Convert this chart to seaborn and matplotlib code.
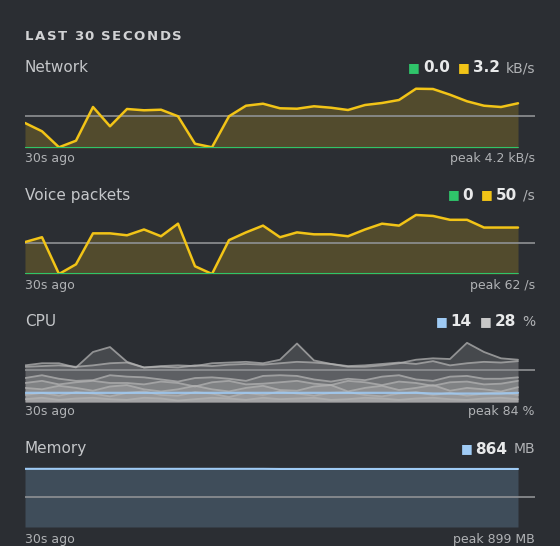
import numpy as np
import pandas as pd
import matplotlib
matplotlib.use("Agg")
import matplotlib.pyplot as plt
import seaborn as sns

# --- data (last 30 samples) ---
net_out = [1.75, 1.17, 0.05, 0.51, 2.87, 1.52, 2.73, 2.64, 2.68, 2.22, 0.30, 0.05, 2.22, 2.96, 3.10,
           2.78, 2.75, 2.92, 2.82, 2.66, 3.01, 3.15, 3.36, 4.15, 4.13, 3.73, 3.27, 2.96, 2.87, 3.13]
net_in = [0.02] * 30
net_ref = 2.22

voice_out = [33, 38, 0, 10, 42, 42, 40, 46, 39, 52, 8, 0, 35, 43, 50,
             38, 43, 41, 41, 39, 46, 52, 50, 61, 60, 56, 56, 48, 48, 48]
voice_in = [0] * 30
voice_ref = 32

cpu_cores = [
    [52, 55, 55, 49, 71, 78, 57, 49, 51, 52, 51, 55, 56, 57, 55, 60, 83, 59, 54, 50, 50, 52, 55, 60, 62, 61, 84, 71, 62, 60],
    [50, 51, 52, 50, 52, 55, 56, 49, 50, 49, 52, 51, 53, 54, 53, 55, 57, 56, 54, 51, 52, 54, 56, 54, 58, 52, 55, 57, 56, 58],
    [34, 38, 33, 30, 31, 38, 36, 35, 32, 29, 34, 35, 33, 30, 37, 38, 37, 32, 29, 33, 31, 36, 38, 32, 30, 36, 37, 33, 33, 35],
    [27, 30, 25, 28, 30, 27, 27, 25, 29, 27, 22, 28, 30, 25, 26, 28, 30, 26, 24, 30, 28, 24, 29, 27, 23, 28, 29, 25, 26, 30],
    [20, 18, 23, 20, 16, 22, 24, 18, 15, 18, 23, 18, 15, 20, 23, 17, 16, 22, 24, 15, 20, 23, 17, 20, 24, 16, 20, 18, 15, 21],
    [10, 13, 9, 14, 12, 8, 13, 15, 10, 9, 14, 12, 7, 13, 10, 15, 12, 9, 13, 14, 10, 8, 12, 14, 10, 13, 9, 12, 14, 10],
    [4, 6, 3, 5, 6, 4, 3, 6, 5, 2, 4, 6, 5, 3, 6, 4, 5, 6, 3, 4, 6, 5, 3, 5, 6, 4, 3, 5, 6, 4],
]
cpu_user = [13, 13, 13, 13, 13, 13, 13, 13, 13, 13, 13, 13, 13, 13, 13,
            13, 13, 13, 13, 13, 13, 13, 13, 13, 12, 12, 12, 12, 12, 13]
cpu_ref = 45

mem = [866, 866, 866, 866, 866, 866, 866, 866, 866, 866, 866, 866, 866, 866, 866,
       864, 864, 864, 864, 864, 864, 864, 864, 864, 864, 864, 864, 864, 864, 864]
mem_ref = 445

t = np.arange(30)

BG = "#2b2e33"
TXT = "#c4c6c9"
DIM = "#b0b2b5"
YEL = "#f2c417"
GRN = "#2fc46a"
BLUE = "#9fcbf5"
REF = "#8f9194"

sns.set_theme(style="dark")
plt.rcParams['font.family'] = ['DejaVu Sans']

W, H = 560, 546
fig = plt.figure(figsize=(W / 100, H / 100), dpi=100, facecolor=BG)
renderer = fig.canvas.get_renderer()


def fx(px):
    return px / W


def fy(py):
    return 1 - py / H


def width_px(txt):
    return txt.get_window_extent(renderer=renderer).width


def make_ax(top, bottom, ymax):
    ax = fig.add_axes([fx(25), fy(bottom), fx(535 - 25), (bottom - top) / H])
    ax.set_facecolor(BG)
    ax.set_xlim(0, 30)
    ax.set_ylim(0, ymax)
    ax.set_xticks([])
    ax.set_yticks([])
    for s in ax.spines.values():
        s.set_visible(False)
    return ax


def header(y, title, items, unit, foot):
    fig.text(fx(25), fy(y), title, color=TXT, fontsize=11, va="center")
    # legend items drawn right to left, measured so they don't collide
    x = 535
    tx = fig.text(fx(x), fy(y), unit, color=DIM, fontsize=10, va="center", ha="right")
    x -= width_px(tx) + 6
    for val, col in reversed(items):
        tx = fig.text(fx(x), fy(y), val, color="#e8e9ea", fontsize=11, fontweight="bold",
                      va="center", ha="right")
        x -= width_px(tx) + 3
        tx = fig.text(fx(x), fy(y), "■", color=col, fontsize=9, va="center", ha="right")
        x -= width_px(tx) + 8
    fig.text(fx(25), fy(y + 90), "30s ago", color=DIM, fontsize=9, va="center")
    fig.text(fx(535), fy(y + 90), foot, color=DIM, fontsize=9, va="center", ha="right")


# letter-spaced section header
hx = 25
for ch in "LAST 30 SECONDS":
    tx = fig.text(fx(hx), fy(37), ch, color="#d2d3d5", fontsize=9.5, fontweight="bold", va="center")
    hx += width_px(tx) + 1.6 if ch != " " else 5

# Network
ax = make_ax(85, 148, 4.41)
ax.fill_between(t, net_out, color=YEL, alpha=0.2, lw=0)
ax.axhline(net_ref, color=REF, lw=1.2)
sns.lineplot(x=t, y=net_out, ax=ax, color=YEL, lw=1.8)
sns.lineplot(x=t, y=net_in, ax=ax, color=GRN, lw=1.5)
header(68, "Network", [("0.0", GRN), ("3.2", YEL)], "kB/s", "peak 4.2 kB/s")

# Voice packets
ax = make_ax(211, 274, 65.1)
ax.fill_between(t, voice_out, color=YEL, alpha=0.2, lw=0)
ax.axhline(voice_ref, color=REF, lw=1.2)
sns.lineplot(x=t, y=voice_out, ax=ax, color=YEL, lw=1.8)
sns.lineplot(x=t, y=voice_in, ax=ax, color=GRN, lw=1.5)
header(195, "Voice packets", [("0", GRN), ("50", YEL)], "/s", "peak 62 /s")

# CPU
ax = make_ax(340, 402, 88)
cpu_df = pd.DataFrame({f"core{i}": v for i, v in enumerate(cpu_cores)})
cpu_df["t"] = t
for col in cpu_df.columns[:-1]:
    ax.fill_between(t, cpu_df[col], color="#d8d8d8", alpha=0.16, lw=0)
    sns.lineplot(data=cpu_df, x="t", y=col, ax=ax, color="#b4b4b4", lw=1.3, alpha=0.75)
ax.axhline(cpu_ref, color=REF, lw=1.2)
sns.lineplot(x=t, y=cpu_user, ax=ax, color=BLUE, lw=1.6, alpha=0.85)
header(322, "CPU", [("14", BLUE), ("28", "#c8c8c8")], "%", "peak 84 %")

# Memory
ax = make_ax(465, 527, 923)
ax.fill_between(t, mem, color="#3f4d5a", lw=0)
ax.axhline(mem_ref, color=REF, lw=1.2)
sns.lineplot(x=t, y=mem, ax=ax, color=BLUE, lw=1.5)
header(449, "Memory", [("864", BLUE)], "MB", "peak 899 MB")

fig.savefig("out.png", dpi=100, facecolor=BG)
